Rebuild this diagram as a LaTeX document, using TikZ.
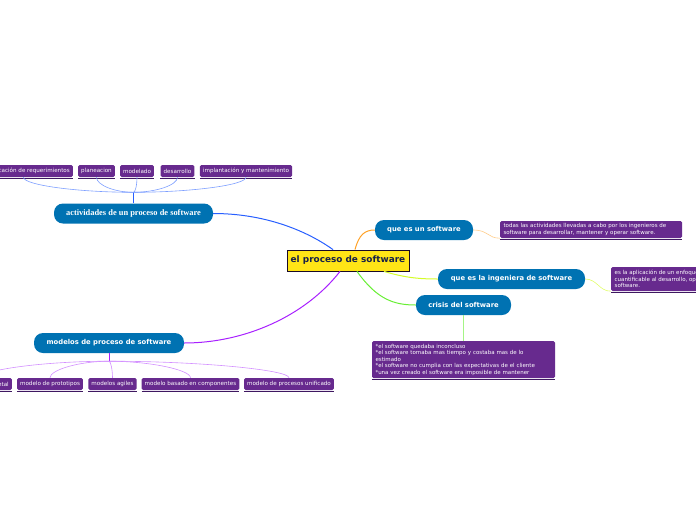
\documentclass[tikz,border=0pt]{standalone}
\usepackage{fontspec}
\setmainfont{DejaVu Sans}
\newfontfamily\headserif{Liberation Serif}
\usetikzlibrary{calc}
\definecolor{mapblue}{RGB}{0,114,178}
\definecolor{mappurple}{RGB}{103,42,142}
\definecolor{mapdark}{RGB}{62,24,96}
\definecolor{mapyellow}{RGB}{255,229,22}
\definecolor{mapnavy}{RGB}{22,32,72}
\definecolor{linkblue}{RGB}{40,95,255}
\definecolor{linkpurple}{RGB}{168,32,255}
\definecolor{linkorange}{RGB}{255,162,40}
\definecolor{linklime}{RGB}{212,252,40}
\definecolor{linkgreen}{RGB}{104,238,52}

\begin{document}
\begin{tikzpicture}[x=1pt, y=-1pt,
      root/.style={draw=mapdark!40!black, line width=0.8pt, fill=mapyellow, text=mapnavy, minimum width=122pt, minimum height=21pt, inner xsep=3pt, font=\bfseries\fontsize{8.9}{10}\selectfont},
      topic/.style={rounded corners=9pt, fill=mapblue, text=white, minimum height=20pt, inner sep=0pt, font=\bfseries\fontsize{6.8}{8}\selectfont},
      leaf/.style={rounded corners=1.5pt, fill=mappurple, text=white, minimum height=12pt, inner xsep=3pt, inner ysep=0pt, font=\fontsize{5.6}{6.5}\selectfont},
      note/.style={rounded corners=1.5pt, fill=mappurple, text=white, align=left, inner xsep=3.5pt, inner ysep=2pt, font=\fontsize{5.5}{6.5}\selectfont},
      branch/.style={line width=1pt},
      twig/.style={line width=0.6pt}
    ]
      \useasboundingbox (0,0) rectangle (696,520);

      % central topic
      \node[root] (root) at (348,260.5) {el proceso de software};

      % main topics
      \node[topic, minimum width=98pt] (que) at (424,230) {que es un software};
      \node[topic, minimum width=147pt] (ing) at (511.5,279) {que es la ingeniera de software};
      \node[topic, minimum width=95pt] (crisis) at (463.5,305) {crisis del software};
      \node[topic, minimum width=159pt, font=\headserif\bfseries\fontsize{8.4}{9}\selectfont] (act) at (133.5,213.5) {actividades de un proceso de software};
      \node[topic, minimum width=150pt] (mpro) at (109,343) {modelos de proceso de software};

      % notes
      \node[note, text width=175pt, minimum height=17pt] (qnote) at (591,229.5) {todas las actividades llevadas a cabo por los ingenieros de\\software para desarrollar, mantener y operar software.};
      \node[note, anchor=west, minimum height=24pt] (inote) at (611,279) {es la aplicación de un enfoque sistemático, disciplinado y\\cuantificable al desarrollo, operación y mantenimiento del\\software.};
      \node[note, text width=176pt, minimum height=37pt] (cnote) at (463.5,359.5) {{*}el software quedaba inconcluso\\{*}el software tomaba mas tiempo y costaba mas de lo\\estimado\\{*}el software no cumplia con las expectativas de el cliente\\{*}una vez creado el software era imposible de mantener};

      % activities
      \node[leaf, anchor=east] (req) at (73,171) {especificación de requerimientos};
      \node[leaf] (plan) at (96.5,171) {planeacion};
      \node[leaf] (mod) at (137,171) {modelado};
      \node[leaf] (des) at (177.5,171) {desarrollo};
      \node[leaf] (imp) at (246,171) {implantación y mantenimiento};

      % process models
      \node[leaf, anchor=east] (inc) at (12,384) {modelo incremental};
      \node[leaf] (proto) at (50,384) {modelo de prototipos};
      \node[leaf] (agil) at (112.5,384) {modelos agiles};
      \node[leaf] (comp) at (190.5,384) {modelo basado en componentes};
      \node[leaf] (unif) at (289,384) {modelo de procesos unificado};

      % underlines
      \foreach \n in {req,plan,mod,des,imp,inc,proto,agil,comp,unif,qnote,inote,cnote}
        \draw[mapdark, line width=0.6pt] ([yshift=-1pt]\n.south west) -- ([yshift=-1pt]\n.south east);

      % branches from the centre
      \draw[branch, linkblue] ([xshift=-15pt]root.north) .. controls +(-28,-20) and +(50,0) .. (act.east);
      \draw[branch, linkpurple] ([xshift=-8pt]root.south) .. controls +(-35,45) and +(60,0) .. (mpro.east);
      \draw[branch, linkorange] ([xshift=7pt]root.north) .. controls +(4,-15) and +(-10,0) .. (que.west);
      \draw[branch, linklime] ([xshift=36pt]root.south) .. controls +(20,6) and +(-20,0) .. (ing.west);
      \draw[branch, linkgreen] ([xshift=9pt]root.south) .. controls +(20,28) and +(-22,0) .. (crisis.west);

      % links to notes
      \draw[twig, linkorange!55] (que.east) .. controls +(15,0) and +(-12,0) .. (qnote.south west);
      \draw[twig, linklime!70] (ing.east) .. controls +(12,0) and +(-12,0) .. (inote.south west);
      \draw[twig, linkgreen!60] (crisis.south) -- (cnote.north);

      % activity twigs
      \coordinate (acthub) at ([yshift=11pt]act.north);
      \draw[branch, linkblue] (act.north) -- (acthub);
      \foreach \n in {req,plan,mod,des,imp}
        \draw[twig, linkblue!60] (acthub) .. controls ($(acthub)!0.5!(\n.south |- acthub)$) and ($(\n.south)+(0,8)$) .. (\n.south);

      % model twigs
      \coordinate (modhub) at ([yshift=-8pt]mpro.south);
      \draw[branch, linkpurple] (mpro.south) -- (modhub);
      \foreach \n in {inc,proto,agil,comp,unif}
        \draw[twig, linkpurple!50] (modhub) .. controls ($(modhub)!0.5!(\n.north |- modhub)$) and ($(\n.north)+(0,-8)$) .. (\n.north);
    \end{tikzpicture}
\end{document}
